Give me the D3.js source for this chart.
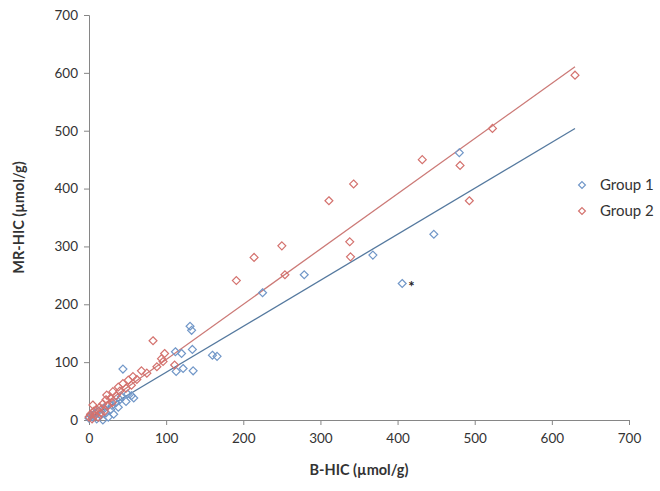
<!DOCTYPE html>
<html>
<head>
<meta charset="utf-8">
<script src="https://cdn.jsdelivr.net/npm/d3@7"></script>
<style>
  html, body { margin: 0; padding: 0; background: #fff; }
  svg { display: block; font-family: Lato, "Open Sans", "Liberation Sans", sans-serif; }
</style>
</head>
<body>
<div id="chart"></div>
<script>
// ---- data ----
const xTicks = [0, 100, 200, 300, 400, 500, 600, 700];
const yTicks = [0, 100, 200, 300, 400, 500, 600, 700];
const seriesNames = ["Group 1", "Group 2"];

// Group 1: [B-HIC, MR-HIC]
const group1 = [
  [0, 3], [2, 8], [5, 5], [8, 12], [10, 2], [12, 15], [15, 8], [18, 0], [20, 20],
  [22, 12], [25, 5], [28, 18], [30, 25], [32, 10], [35, 30], [38, 22], [40, 35],
  [42, 40], [44, 88], [48, 32], [50, 45], [55, 42], [58, 38],
  [113, 84], [122, 89], [135, 85], [112, 118], [120, 115], [134, 122],
  [131, 162], [133, 155], [160, 112], [166, 110],
  [225, 220], [279, 251], [368, 285], [406, 236], [447, 321], [480, 462]
];
// Group 2
const group2 = [
  [0, 5], [2, 10], [4, 2], [5, 26], [6, 15], [8, 8], [10, 18], [12, 5], [14, 22],
  [15, 12], [18, 28], [20, 15], [22, 35], [23, 43], [25, 25], [28, 38], [30, 30],
  [31, 49], [35, 42], [38, 57], [40, 50], [44, 63], [48, 55], [51, 69], [55, 60],
  [57, 75], [62, 70], [68, 85], [75, 81], [83, 137], [88, 92], [94, 106], [98, 115],
  [96, 101], [111, 95],
  [191, 241], [214, 281], [250, 301], [254, 251], [311, 379], [339, 282], [338, 308],
  [343, 408], [432, 450], [481, 440], [493, 379], [523, 504], [630, 596]
];
// linear trend lines: [slope, intercept, xStart, xEnd]
const trend1 = [0.795, 3, 0, 630];
const trend2 = [0.955, 9, 0, 630];
// marked outlier
const outlier = [406, 236];

// ---- layout ----
const W = 660, H = 491;
const m = { left: 89, right: 31, top: 15, bottom: 71 };
const svg = d3.select("#chart").append("svg").attr("width", W).attr("height", H);

const x = d3.scaleLinear().domain([0, 700]).range([m.left, W - m.right]);
const y = d3.scaleLinear().domain([0, 700]).range([H - m.bottom, m.top]);

const axisColor = "#868686";
const textColor = "#333333";
const col1 = "#7197c8", col2 = "#d4726e";
const line1 = "#55799f", line2 = "#cc7a77";

// axes
const gx = svg.append("g").attr("transform", `translate(0,${y(0)})`)
  .call(d3.axisBottom(x).tickValues(xTicks).tickSize(5).tickPadding(8));
const gy = svg.append("g").attr("transform", `translate(${x(0)},0)`)
  .call(d3.axisLeft(y).tickValues(yTicks).tickSize(5).tickPadding(6));
[gx, gy].forEach(g => {
  g.select(".domain").attr("stroke", axisColor);
  g.selectAll(".tick line").attr("stroke", axisColor);
  g.selectAll(".tick text").attr("fill", textColor).attr("font-size", 13.5)
    .attr("font-family", "Lato, 'Open Sans', sans-serif");
});

// trend lines
[[trend1, line1], [trend2, line2]].forEach(([t, c]) => {
  svg.append("line")
    .attr("x1", x(t[2])).attr("y1", y(t[0] * t[2] + t[1]))
    .attr("x2", x(t[3])).attr("y2", y(t[0] * t[3] + t[1]))
    .attr("stroke", c).attr("stroke-width", 1.3);
});

// diamond markers
const diamond = d3.symbol().type(d3.symbolDiamond2).size(40);
const legendDiamond = d3.symbol().type(d3.symbolDiamond2).size(30);
function drawPoints(data, color) {
  svg.append("g").selectAll("path").data(data).join("path")
    .attr("d", diamond)
    .attr("transform", d => `translate(${x(d[0])},${y(d[1])})`)
    .attr("fill", "none").attr("stroke", color).attr("stroke-width", 1.2);
}
drawPoints(group1, col1);
drawPoints(group2, col2);

// outlier asterisk
svg.append("text").attr("x", x(outlier[0]) + 6).attr("y", y(outlier[1]) + 9)
  .attr("font-size", 15).attr("font-weight", "bold").attr("fill", "#222").text("*");

// axis titles
svg.append("text").attr("x", (x(0) + x(700)) / 2).attr("y", 475)
  .attr("text-anchor", "middle").attr("font-size", 14.5).attr("font-weight", "bold")
  .attr("fill", textColor).text("B-HIC (µmol/g)");
svg.append("text").attr("transform", `translate(24,${(y(0) + y(700)) / 2}) rotate(-90)`)
  .attr("text-anchor", "middle").attr("font-size", 14.5).attr("font-weight", "bold")
  .attr("fill", textColor).text("MR-HIC (µmol/g)");

// legend
const legend = svg.append("g");
seriesNames.forEach((name, i) => {
  const ly = 185 + i * 26;
  legend.append("path").attr("d", legendDiamond).attr("transform", `translate(582,${ly})`)
    .attr("fill", "none").attr("stroke", i === 0 ? col1 : col2).attr("stroke-width", 1.2);
  legend.append("text").attr("x", 600).attr("y", ly + 5).attr("font-size", 15)
    .attr("fill", textColor).text(name);
});
</script>
</body>
</html>
